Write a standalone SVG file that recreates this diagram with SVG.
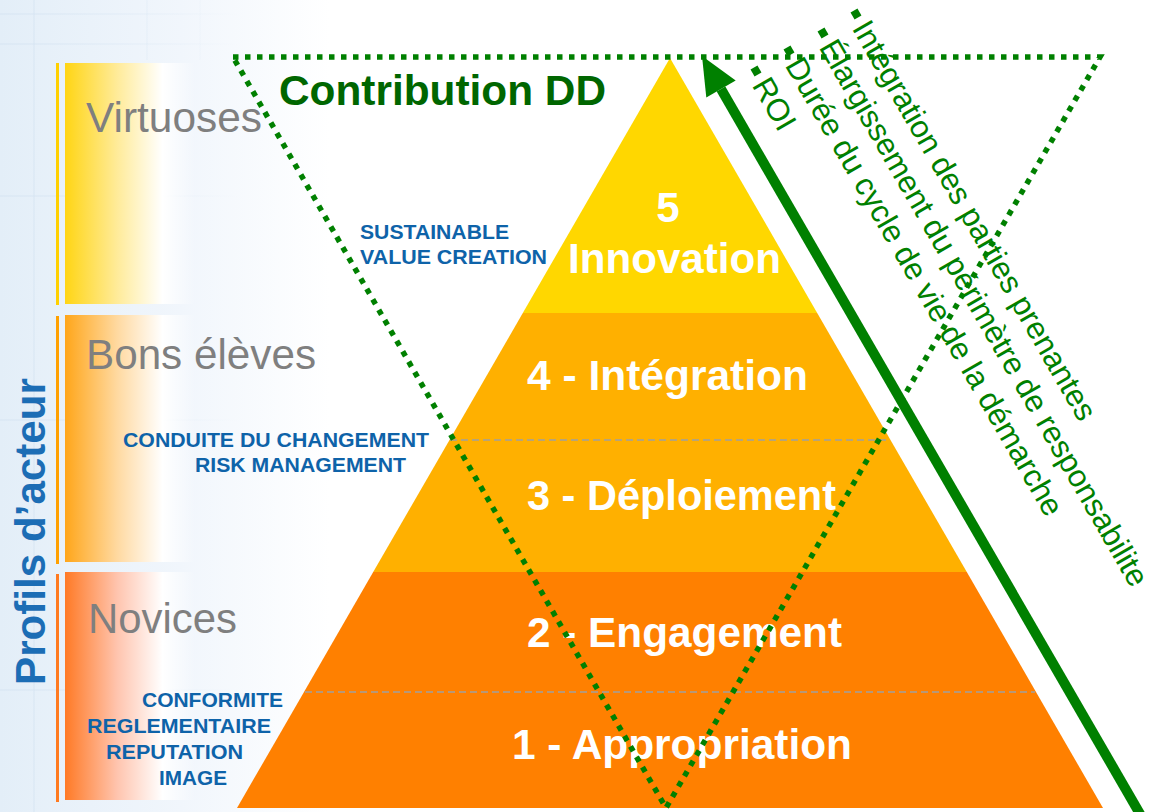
<svg xmlns="http://www.w3.org/2000/svg" width="1149" height="812" viewBox="0 0 1149 812">
<style>
.lvl{font-family:"Liberation Sans",Arial,sans-serif;font-weight:bold;font-size:42px;fill:#FFFFFF}
.prof{font-family:"Liberation Sans",Arial,sans-serif;font-size:42px;fill:#7F7F7F}
.small{font-family:"Liberation Sans",Arial,sans-serif;font-weight:bold;font-size:21px;fill:#0E63A9}
.green{font-family:"Liberation Sans",Arial,sans-serif;font-size:31.2px;fill:#008000}
.title{font-family:"Liberation Sans",Arial,sans-serif;font-weight:bold;font-size:42px;fill:#006600}
.axis{font-family:"Liberation Sans",Arial,sans-serif;font-weight:bold;font-size:42px;fill:#1C6DB5}
.sep{stroke:#A0A0A0;stroke-width:1.5;stroke-dasharray:7 4;fill:none}
.grid{stroke:url(#gridfade);stroke-width:2;fill:none}
</style>
<defs>
<linearGradient id="bgfade" gradientUnits="userSpaceOnUse" x1="0" y1="0" x2="330" y2="0">
<stop offset="0" stop-color="#E3EEF8"/>
<stop offset="0.55" stop-color="#F1F6FC"/>
<stop offset="1" stop-color="#FFFFFF"/>
</linearGradient>
<linearGradient id="gridfade" gradientUnits="userSpaceOnUse" x1="0" y1="0" x2="240" y2="0">
<stop offset="0" stop-color="#D6E4F2" stop-opacity="0.5"/>
<stop offset="1" stop-color="#D6E4F2" stop-opacity="0"/>
</linearGradient>
<linearGradient id="gY" x1="0" y1="0" x2="1" y2="0">
<stop offset="0" stop-color="#FFD514"/>
<stop offset="0.4" stop-color="#FFEB99"/>
<stop offset="0.75" stop-color="#FFFFFF"/>
<stop offset="1" stop-color="#FFFFFF" stop-opacity="0"/>
</linearGradient>
<linearGradient id="gO" x1="0" y1="0" x2="1" y2="0">
<stop offset="0" stop-color="#FFA61A"/>
<stop offset="0.4" stop-color="#FFD9A0"/>
<stop offset="0.75" stop-color="#FFFFFF"/>
<stop offset="1" stop-color="#FFFFFF" stop-opacity="0"/>
</linearGradient>
<linearGradient id="gR" x1="0" y1="0" x2="1" y2="0">
<stop offset="0" stop-color="#FF7A26"/>
<stop offset="0.4" stop-color="#FFC4AE"/>
<stop offset="0.75" stop-color="#FFFFFF"/>
<stop offset="1" stop-color="#FFFFFF" stop-opacity="0"/>
</linearGradient>
</defs>

<!-- background -->
<rect x="0" y="0" width="1149" height="812" fill="#FFFFFF"/>
<rect x="0" y="0" width="340" height="812" fill="url(#bgfade)"/>
<g class="grid">
<line x1="0" y1="14" x2="240" y2="14"/>
<line x1="0" y1="44" x2="240" y2="44"/>
<line x1="0" y1="196" x2="240" y2="196"/>
<line x1="0" y1="420" x2="240" y2="420"/>
<line x1="0" y1="690" x2="240" y2="690"/>
<line x1="34" y1="0" x2="34" y2="812"/>
<line x1="147" y1="0" x2="147" y2="60"/>
<line x1="200" y1="0" x2="200" y2="60"/>
</g>

<!-- actor profile bars -->
<g id="profile-virtuoses">
<rect x="56" y="63" width="3" height="242" fill="#FFD000"/>
<rect x="65" y="63" width="130" height="241" fill="url(#gY)"/>
<text class="prof" x="86" y="132" textLength="176" lengthAdjust="spacingAndGlyphs">Virtuoses</text>
</g>
<g id="profile-bons-eleves">
<rect x="56" y="316" width="3" height="248" fill="#FFA000"/>
<rect x="65" y="315" width="130" height="247" fill="url(#gO)"/>
<text class="prof" x="86" y="369" textLength="230" lengthAdjust="spacingAndGlyphs">Bons élèves</text>
</g>
<g id="profile-novices">
<rect x="56" y="574" width="3" height="228" fill="#FF7A20"/>
<rect x="65" y="572" width="130" height="228" fill="url(#gR)"/>
<text class="prof" x="88" y="633" textLength="149" lengthAdjust="spacingAndGlyphs">Novices</text>
</g>
<text id="axis-label" class="axis" transform="translate(45,685) rotate(-90)" textLength="307" lengthAdjust="spacingAndGlyphs">Profils d’acteur</text>

<!-- side labels -->
<g id="label-sustainable">
<text class="small" x="360" y="239" textLength="149" lengthAdjust="spacingAndGlyphs">SUSTAINABLE</text>
<text class="small" x="360" y="264" textLength="187" lengthAdjust="spacingAndGlyphs">VALUE CREATION</text>
</g>
<g id="label-conduite">
<text class="small" x="123" y="447" textLength="306" lengthAdjust="spacingAndGlyphs">CONDUITE DU CHANGEMENT</text>
<text class="small" x="195" y="472" textLength="211" lengthAdjust="spacingAndGlyphs">RISK MANAGEMENT</text>
</g>
<g id="label-conformite">
<text class="small" x="142" y="707" textLength="141" lengthAdjust="spacingAndGlyphs">CONFORMITE</text>
<text class="small" x="87" y="733" textLength="184" lengthAdjust="spacingAndGlyphs">REGLEMENTAIRE</text>
<text class="small" x="106" y="759" textLength="137" lengthAdjust="spacingAndGlyphs">REPUTATION</text>
<text class="small" x="159" y="785" textLength="68" lengthAdjust="spacingAndGlyphs">IMAGE</text>
</g>

<!-- pyramid -->
<g id="level5">
<polygon points="670,58 817.2,313 522.8,313" fill="#FFD700"/>
<text class="lvl" x="668" y="222" text-anchor="middle">5</text>
<text class="lvl" x="568" y="273" textLength="213" lengthAdjust="spacingAndGlyphs">Innovation</text>
</g>
<g id="level4">
<polygon points="522.8,313 817.2,313 890.5,440 449.5,440" fill="#FFB000"/>
</g>
<g id="level3">
<polygon points="449.5,440 890.5,440 966.8,572 373.2,572" fill="#FFB000"/>
</g>
<g id="level2">
<polygon points="373.2,572 966.8,572 1036,692 304,692" fill="#FF8000"/>
</g>
<g id="level1">
<polygon points="304,692 1036,692 1103,808 237,808" fill="#FF8000"/>
</g>
<line class="sep" x1="450" y1="440" x2="890" y2="440"/>
<line class="sep" x1="305" y1="692" x2="1035" y2="692"/>

<text class="lvl" x="527" y="390" textLength="281" lengthAdjust="spacingAndGlyphs">4 - Intégration</text>
<text class="lvl" x="527" y="510" textLength="309" lengthAdjust="spacingAndGlyphs">3 - Déploiement</text>
<text class="lvl" x="527" y="647" textLength="315" lengthAdjust="spacingAndGlyphs">2 - Engagement</text>
<text class="lvl" x="512" y="759" textLength="340" lengthAdjust="spacingAndGlyphs">1 - Appropriation</text>

<!-- contribution DD -->
<g id="contribution">
<path d="M233,57 L1100,57 L666,808 Z" fill="none" stroke="#008000" stroke-width="5.5" stroke-dasharray="5.5 6.5"/>
<text class="title" x="279" y="105" textLength="327" lengthAdjust="spacingAndGlyphs">Contribution DD</text>
</g>

<!-- connectors -->
<g id="connectors">
<line x1="721" y1="89" x2="1143.5" y2="820" stroke="#008000" stroke-width="10"/>
<polygon points="702,56 735.7,80.5 706.3,97.5" fill="#008000"/>
</g>

<!-- criteria list -->
<g id="criteria">
<g transform="translate(856,14) rotate(60)">
<rect x="-4" y="-4" width="8" height="8" fill="#008000"/>
<text class="green" x="10" y="11">Intégration des parties prenantes</text>
</g>
<g transform="translate(823,33) rotate(60)">
<rect x="-4" y="-4" width="8" height="8" fill="#008000"/>
<text class="green" x="10" y="11">Élargissement du périmètre de responsabilite</text>
</g>
<g transform="translate(789,51) rotate(60)">
<rect x="-4" y="-4" width="8" height="8" fill="#008000"/>
<text class="green" x="10" y="11">Durée du cycle de vie de la démarche</text>
</g>
<g transform="translate(756,71) rotate(60)">
<rect x="-4" y="-4" width="8" height="8" fill="#008000"/>
<text class="green" x="10" y="11">ROI</text>
</g>
</g>
</svg>
